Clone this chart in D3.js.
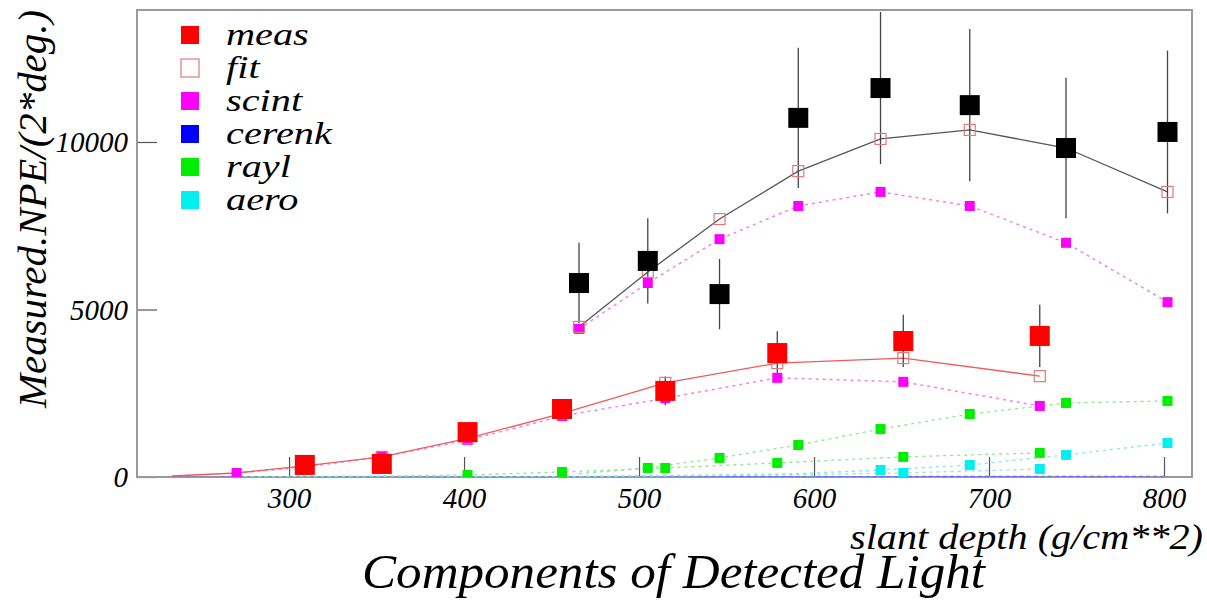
<!DOCTYPE html>
<html>
<head>
<meta charset="utf-8">
<script src="https://cdn.jsdelivr.net/npm/d3@7"></script>
<style>
  body { margin: 0; background: #fff; }
  text { font-family: "Liberation Serif", "DejaVu Serif", serif; font-style: italic; fill: #000; }
</style>
</head>
<body>
<div id="chart"></div>
<script>
// ---- data ----
// upper (two degree) set
var depthUpper  = [465.7, 505, 546, 591, 638, 689, 744, 802];
var measUpper   = [5790, 6450, 5460, 10720, 11610, 11100, 9820, 10300];
var errUpper    = [1200, 1270, 1050, 2090, 2270, 2270, 2100, 2430];
var fitUpper    = [4480, 6120, 7700, 9130, 10090, 10360, 9820, 8510];
var scintUpper  = [4420, 5790, 7100, 8090, 8510, 8090, 6990, 5220];
var cerenkUpper = [5, 8, 10, 12, 15, 18, 20, 22];
var raylUpper   = [100, 270, 570, 955, 1430, 1880, 2210, 2270];
var aeroUpper   = [20, 40, 60, 100, 210, 360, 660, 1015];

// lower set
var depthLower  = [233, 270, 309, 353, 402, 456, 515, 579, 651, 729];
var measLower   = [null, null, 360, 390, 1340, 2030, 2570, 3700, 4060, 4210];
var errLower    = [0, 0, 60, 80, 150, 280, 430, 650, 780, 930];
var fitLower    = [30, 120, 330, 600, 1150, 1900, 2810, 3400, 3550, 3010];
var scintLower  = [null, 120, 300, 600, 1100, 1820, 2350, 2960, 2840, 2120];
var cerenkLower = [0, 1, 2, 3, 4, 5, 6, 7, 8, 9];
var raylLower   = [null, 5, 15, 30, 60, 150, 270, 420, 600, 720];
var aeroLower   = [null, 0, 2, 4, 8, 15, 30, 60, 120, 240];

var xTicks = [300, 400, 500, 600, 700, 800];
var yTicks = [0, 5000, 10000];

var legendNames  = ["meas", "fit", "scint", "cerenk", "rayl", "aero"];
var legendColors = ["#ff0000", "#e07a7a", "#ff00ff", "#0000ff", "#00ee00", "#00f0f0"];

// ---- layout ----
var svgWidth = 1207, svgHeight = 601;
var margin = {top: 10, right: 15, bottom: 124, left: 137};
var width = svgWidth - margin.left - margin.right,
    height = svgHeight - margin.top - margin.bottom;

var svg = d3.select("#chart")
  .append("svg")
    .attr("width", svgWidth)
    .attr("height", svgHeight)
  .append("g")
    .attr("transform", "translate(" + margin.left + "," + margin.top + ")");

var x = d3.scaleLinear().domain([213.1, 816]).range([0, width]);
var y = d3.scaleLinear().domain([0, 13940]).range([height, 0]);

// clip for marks
svg.append("clipPath").attr("id", "plotclip")
  .append("rect").attr("width", width).attr("height", height);

// ticks (inside, 20px)
var xAxis = svg.append("g")
  .attr("transform", "translate(0," + height + ")")
  .call(d3.axisBottom(x).tickValues(xTicks).tickFormat(d3.format("d"))
    .tickSizeInner(-20).tickSizeOuter(0).tickPadding(10));
var yAxis = svg.append("g")
  .call(d3.axisLeft(y).tickValues(yTicks).tickFormat(d3.format("d"))
    .tickSizeInner(-20).tickSizeOuter(0).tickPadding(9));
[xAxis, yAxis].forEach(function(a) {
  a.select(".domain").remove();
  a.selectAll(".tick line").attr("stroke", "#555").attr("stroke-width", 1.2);
  a.selectAll(".tick text")
    .style("font-family", "'Liberation Serif', serif")
    .style("font-style", "italic")
    .style("font-size", "29px")
    .attr("fill", "#000");
});
yAxis.selectAll(".tick text").attr("dy", "0.34em");

// frame
svg.append("rect")
  .attr("width", width).attr("height", height)
  .attr("fill", "none").attr("stroke", "#9a9a9a").attr("stroke-width", 2);

var plot = svg.append("g").attr("clip-path", "url(#plotclip)");

function zipDepth(depth, vals) {
  return depth.map(function(d, i) { return {x: d, y: vals[i]}; })
    .filter(function(p) { return p.y !== null; });
}

var line = d3.line().x(function(d) { return x(d.x); }).y(function(d) { return y(d.y); });

function drawLine(depth, vals, color, width, dash) {
  plot.append("path")
    .datum(zipDepth(depth, vals))
    .attr("fill", "none")
    .attr("stroke", color)
    .attr("stroke-width", width)
    .attr("stroke-dasharray", dash)
    .attr("d", line);
}

function drawSquares(depth, vals, size, fill, stroke) {
  plot.append("g").selectAll("rect")
    .data(zipDepth(depth, vals))
    .join("rect")
      .attr("x", function(d) { return x(d.x) - size / 2; })
      .attr("y", function(d) { return y(d.y) - size / 2; })
      .attr("width", size).attr("height", size)
      .attr("fill", fill)
      .attr("stroke", stroke || "none")
      .attr("stroke-width", stroke ? 1.2 : 0);
}

function drawErrors(depth, vals, errs) {
  plot.append("g").selectAll("line")
    .data(depth.map(function(d, i) { return {x: d, y: vals[i], e: errs[i]}; })
      .filter(function(p) { return p.y !== null && p.e > 0; }))
    .join("line")
      .attr("x1", function(d) { return x(d.x); })
      .attr("x2", function(d) { return x(d.x); })
      .attr("y1", function(d) { return y(d.y + d.e); })
      .attr("y2", function(d) { return y(d.y - d.e); })
      .attr("stroke", "#444").attr("stroke-width", 1.3);
}

// component lines (dotted)
drawLine(depthLower, cerenkLower, "#6a6aff", 1.2, "4,3");
drawLine(depthUpper, cerenkUpper, "#6a6aff", 1.2, "4,3");
drawLine(depthLower, raylLower, "#8be88b", 1.3, "3,4");
drawLine(depthUpper, raylUpper, "#8be88b", 1.3, "3,4");
drawLine(depthLower, aeroLower, "#80e8f0", 1.3, "3,4");
drawLine(depthUpper, aeroUpper, "#80e8f0", 1.3, "3,4");
drawLine(depthLower, scintLower, "#f080f0", 1.5, "3,4");
drawLine(depthUpper, scintUpper, "#f080f0", 1.5, "3,4");

// fit lines (solid)
drawLine(depthLower, fitLower, "#f05a5a", 1.3, null);
drawLine(depthUpper, fitUpper, "#555", 1.3, null);

// error bars
drawErrors(depthLower, measLower, errLower);
drawErrors(depthUpper, measUpper, errUpper);

// component markers
drawSquares(depthLower, raylLower.map(function(v, i) { return i > 3 ? v : null; }), 10, "#00ee00");
drawSquares(depthUpper, raylUpper.map(function(v, i) { return i > 0 ? v : null; }), 10, "#00ee00");
drawSquares(depthLower, aeroLower.map(function(v, i) { return i > 7 ? v : null; }), 10, "#00f0f0");
drawSquares(depthUpper, aeroUpper.map(function(v, i) { return i > 3 ? v : null; }), 10, "#00f0f0");
drawSquares(depthLower, scintLower, 10, "#ff00ff");
drawSquares(depthUpper, scintUpper, 10, "#ff00ff");

// fit markers at measured depths
drawSquares(depthLower, fitLower.map(function(v, i) { return measLower[i] === null ? null : v; }), 11, "none", "#e07a7a");
drawSquares(depthUpper, fitUpper, 11, "none", "#e07a7a");

// measurements
drawSquares(depthLower, measLower, 20, "#ff0000");
drawSquares(depthUpper, measUpper, 20, "#000000");

// legend
var legend = svg.append("g").attr("transform", "translate(44,16)");
var item = legend.selectAll("g")
  .data(legendNames)
  .join("g")
    .attr("transform", function(d, i) { return "translate(0," + (i * 33) + ")"; });
item.append("rect")
  .attr("width", 18).attr("height", 18)
  .attr("fill", function(d, i) { return i === 1 ? "none" : legendColors[i]; })
  .attr("stroke", function(d, i) { return i === 1 ? legendColors[i] : "none"; })
  .attr("stroke-width", 1.2);
item.append("text")
  .attr("transform", "translate(45,19) scale(1.3,1)")
  .style("font-size", "31px")
  .text(function(d) { return d; });

// axis titles
var root = d3.select("#chart svg");
root.append("text")
  .attr("x", 850).attr("y", 549)
  .attr("textLength", 353).attr("lengthAdjust", "spacingAndGlyphs")
  .style("font-size", "36px")
  .text("slant depth (g/cm**2)");

root.append("text")
  .attr("transform", "translate(46,408) rotate(-90)")
  .attr("textLength", 398).attr("lengthAdjust", "spacingAndGlyphs")
  .style("font-size", "40px")
  .text("Measured.NPE/(2*deg.)");

root.append("text")
  .attr("x", 362).attr("y", 588)
  .attr("textLength", 623).attr("lengthAdjust", "spacingAndGlyphs")
  .style("font-size", "48px")
  .text("Components of Detected Light");
</script>
</body>
</html>
